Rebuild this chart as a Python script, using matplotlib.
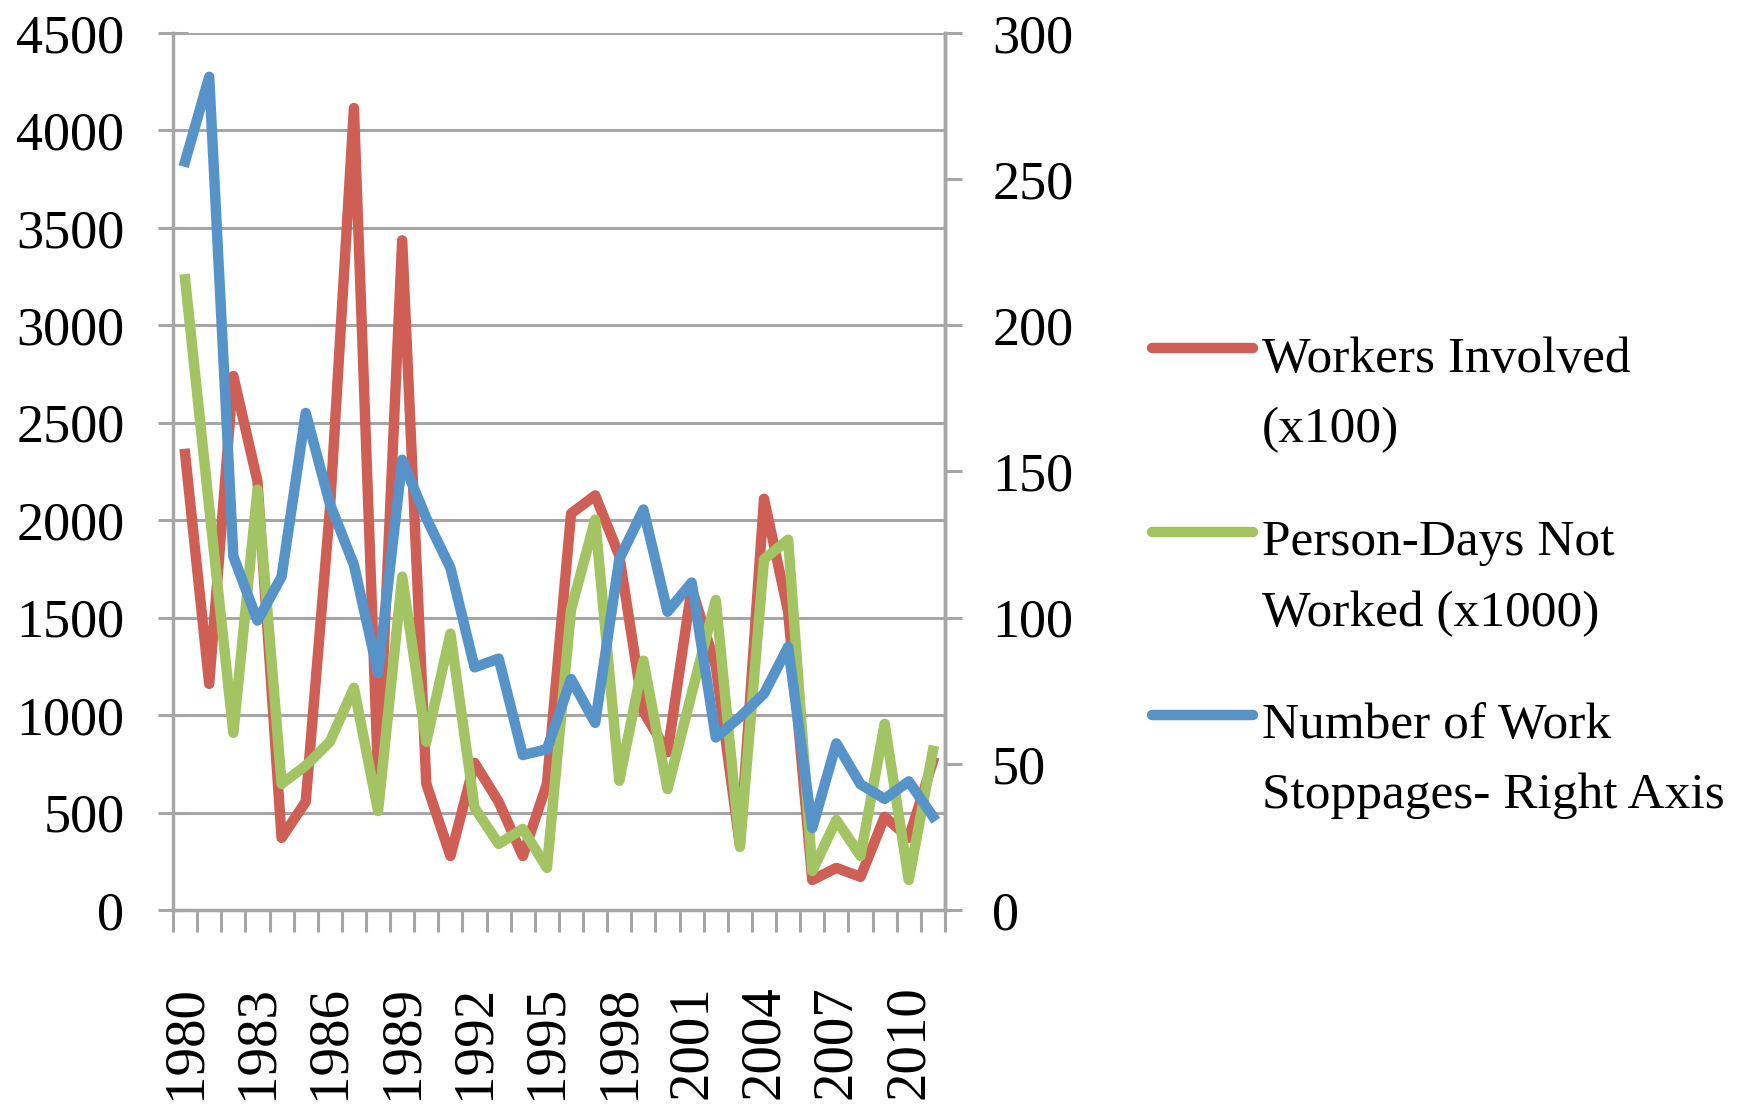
import matplotlib
matplotlib.use("Agg")
import matplotlib.pyplot as plt
from matplotlib.lines import Line2D

years = list(range(1980, 2012))
workers = [2340, 1160, 2740, 2200, 370, 555, 2050, 4115, 680, 3436, 647, 277,
           755, 555, 277, 647, 2034, 2127, 1818, 1017, 810, 1650, 1250, 330,
           2110, 1530, 154, 216, 170, 478, 370, 760]
person_days = [3236, 2065, 909, 2157, 647, 740, 863, 1140, 508, 1710, 863, 1418,
               524, 339, 416, 216, 1541, 2003, 663, 1279, 620, 1110, 1590, 324,
               1800, 1900, 200, 462, 277, 955, 154, 817]
stoppages = [256, 285, 121, 99, 114, 170, 139, 118, 81, 154, 134, 117,
             83, 86, 53, 55, 79, 64, 120, 137, 102, 112, 59, 66,
             74, 90, 28, 57, 43, 38, 44, 32]
labels = ["Workers Involved\n(x100)", "Person-Days Not\nWorked (x1000)",
          "Number of Work\nStoppages- Right Axis"]

RED, GREEN, BLUE = "#cf5f55", "#a2c462", "#5693c9"
GRAY = "#a6a6a6"
LW = 7.5
plt.rcParams["font.family"] = ["Liberation Serif", "DejaVu Serif"]
FS = 39

fig = plt.figure(figsize=(17.46, 11.13), dpi=100)
ax = fig.add_axes([0.0991, 0.1824, 0.4421, 0.788])
ax2 = ax.twinx()

x = list(range(len(years)))
ax.plot(x, workers, color=RED, lw=LW, solid_joinstyle="round", zorder=3)
ax.plot(x, person_days, color=GREEN, lw=LW, solid_joinstyle="round", zorder=4)
ax2.plot(x, stoppages, color=BLUE, lw=LW, solid_joinstyle="round", zorder=5)

ax.set_xlim(-0.5, len(years) - 0.5)
ax.set_ylim(0, 4500)
ax2.set_ylim(0, 300)
ax.set_yticks(range(0, 4501, 500))
ax2.set_yticks(range(0, 301, 50))
ax.yaxis.grid(True, color=GRAY, lw=2.2)
ax.set_axisbelow(True)

# category ticks sit between years, labels every third year
ax.set_xticks([i - 0.5 for i in range(len(years) + 1)])
ax.set_xticklabels([])
ax.set_xticks(x[::3], minor=True)
ax.set_xticklabels([str(y) for y in years[::3]], minor=True, rotation=90,
                   fontsize=41)
ax.tick_params(axis="x", which="major", direction="out", length=16, width=2.2,
               color=GRAY)
ax.tick_params(axis="x", which="minor", length=0, pad=54)
ax.tick_params(axis="y", direction="inout", length=22, width=2.2, color=GRAY,
               labelsize=FS, pad=24)
ax2.tick_params(axis="y", direction="out", length=12, width=2.2, color=GRAY,
                labelsize=FS, pad=22)

for a in (ax, ax2):
    a.spines["top"].set_visible(False)
    for s in ("left", "right", "bottom"):
        a.spines[s].set_color(GRAY)
        a.spines[s].set_linewidth(2.5)
ax2.spines["left"].set_visible(False)
ax2.spines["bottom"].set_visible(False)

# legend drawn by hand so the swatch lines up with the first text line
for color, label, yc in zip([RED, GREEN, BLUE], labels, [0.687, 0.522, 0.358]):
    fig.add_artist(Line2D([0.660, 0.7176], [yc, yc],
                          transform=fig.transFigure, color=color, lw=LW,
                          solid_capstyle="round"))
    fig.text(0.7228, yc - 0.026, label, fontsize=37, va="center_baseline",
             ha="left", linespacing=1.67)

fig.savefig("out.png", dpi=100)
plt.close(fig)
